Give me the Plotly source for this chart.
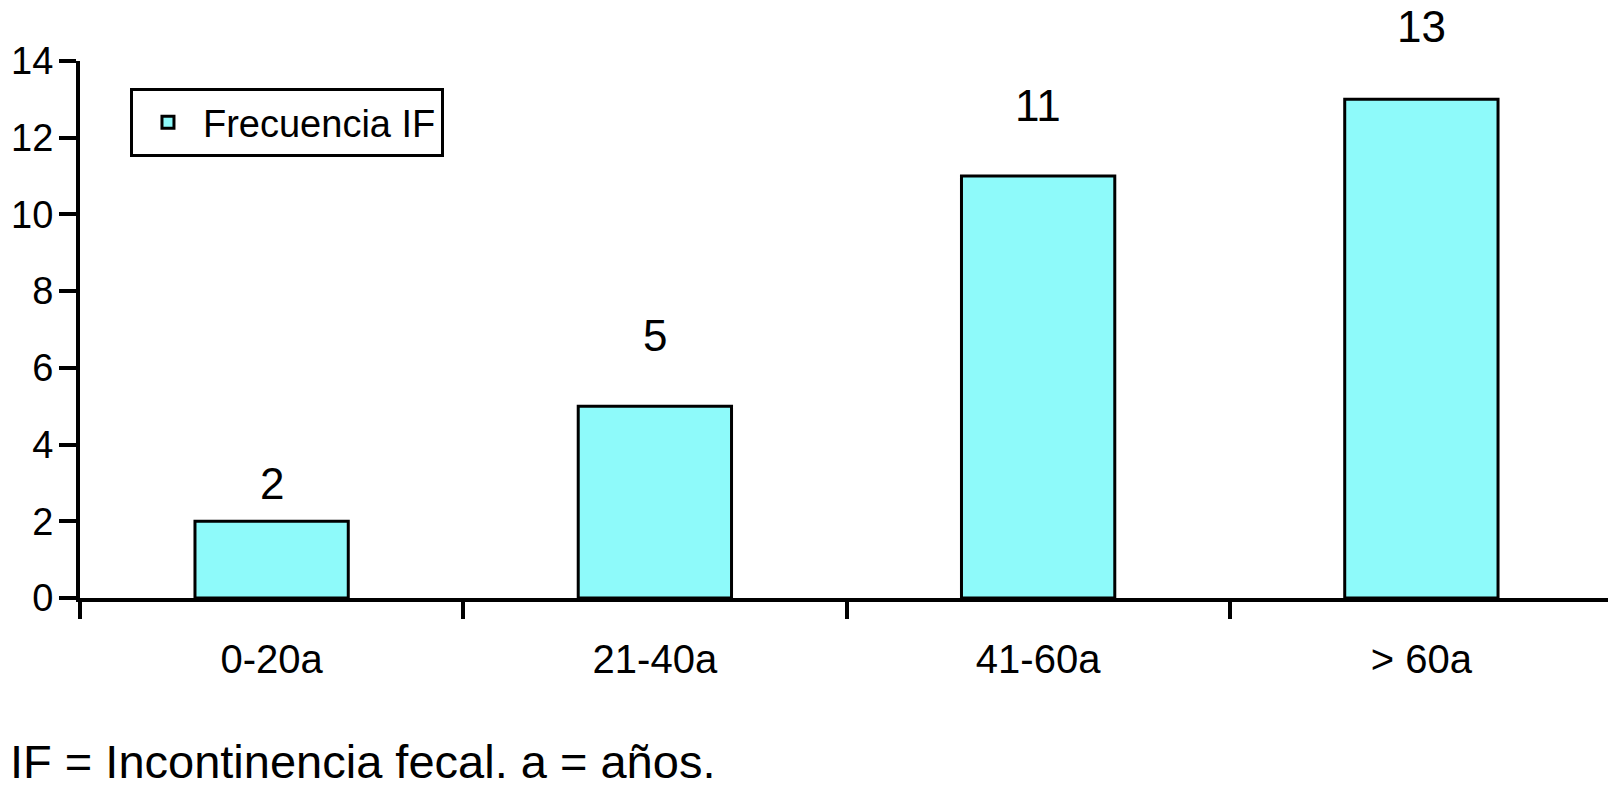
import plotly.graph_objects as go

# age groups and counts of fecal incontinence (IF)
age_groups = ["0-20a", "21-40a", "41-60a", "> 60a"]
frecuencia_if = [2, 5, 11, 13]
series_name = "Frecuencia IF"
footnote = "IF = Incontinencia fecal. a = años."

# how far (px) each value label sits above its bar, as in the original figure
label_lift = [38, 71, 71, 73]

FONT = "Liberation Sans, Arial, Helvetica, sans-serif"
BAR_COLOR = "#8EFAFA"

# page body has an 8px margin, so the figure is a bit smaller than the window
W, H = 1608, 780
ML, MR, MT, MB = 72, 3, 53, 190
plot_w = W - ML - MR

fig = go.Figure()
fig.add_trace(go.Bar(
    x=age_groups,
    y=frecuencia_if,
    name=series_name,
    width=0.4,
    marker=dict(color=BAR_COLOR, line=dict(color="black", width=3)),
    showlegend=True,
))

# value labels above each bar
for cat, val, lift in zip(age_groups, frecuencia_if, label_lift):
    fig.add_annotation(
        x=cat, y=val, xref="x", yref="y",
        text=str(val), showarrow=False,
        yshift=lift, yanchor="middle",
        font=dict(size=44, color="black", family=FONT),
    )

fig.add_annotation(
    text=footnote, xref="paper", yref="paper",
    x=-ML / plot_w, y=-0.305, xanchor="left", yanchor="middle",
    showarrow=False, font=dict(size=47, color="black", family=FONT),
)

fig.update_layout(
    width=W,
    height=H,
    paper_bgcolor="white",
    plot_bgcolor="white",
    font=dict(family=FONT, color="black"),
    margin=dict(l=ML, r=MR, t=MT, b=MB),
    bargap=0.6,
    legend=dict(
        x=0.0326, y=0.8855, xanchor="left", yanchor="middle",
        bgcolor="white", bordercolor="black", borderwidth=3,
        font=dict(size=38, color="black", family=FONT),
        itemwidth=60,
    ),
    xaxis=dict(
        type="category",
        range=[-0.5, 3.5],
        automargin=False,
        showline=True, linecolor="black", linewidth=4,
        ticks="outside", tickson="boundaries", ticklen=17, tickwidth=4,
        tickcolor="black", ticklabelstandoff=23,
        tickfont=dict(size=40, color="black", family=FONT),
        showgrid=False, zeroline=False,
    ),
    yaxis=dict(
        range=[0, 14], dtick=2,
        automargin=False,
        showline=True, linecolor="black", linewidth=4,
        ticks="outside", ticklen=17, tickwidth=4, tickcolor="black",
        ticklabelstandoff=-2,
        tickfont=dict(size=38, color="black", family=FONT),
        showgrid=False, zeroline=False,
    ),
)

fig.write_html("out.html")
